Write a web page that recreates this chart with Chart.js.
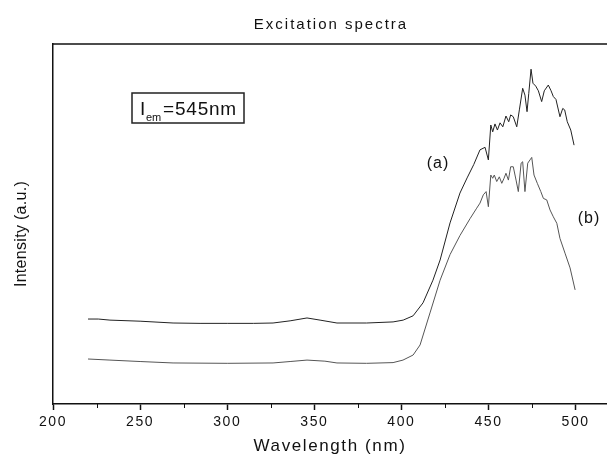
<!DOCTYPE html>
<html>
<head>
<meta charset="utf-8">
<script src="https://cdn.jsdelivr.net/npm/chart.js@4"></script>
<style>
  html, body { margin: 0; padding: 0; background: #fff; }
  #wrap { width: 607px; height: 457px; }
</style>
</head>
<body>
<div id="wrap"><canvas id="myChart"></canvas></div>
<script>
// curve (a)
const wlA = [220.1, 226, 232.7, 250, 268.9, 284.4, 300, 315, 326.3, 336.1, 345.8, 353.3, 363, 380, 395.2, 401, 406.7, 412.4, 418.1, 422.2, 427.9, 433.6, 437.7, 441.5, 445.1, 448.0, 449.9, 451.3, 452.4, 453.7, 455.1, 456.6, 458.2, 460.0, 461.6, 462.7, 464.2, 466.2, 467.7, 469.6, 470.9, 472.1, 473.1, 474.4, 475.5, 477.1, 478.6, 480.5, 482.0, 484.3, 485.9, 487.2, 488.7, 491.0, 492.6, 493.7, 495.2, 497.2, 499.1];
const intA = [23.6, 23.6, 23.3, 23.0, 22.5, 22.4, 22.4, 22.4, 22.5, 23.1, 23.9, 23.3, 22.5, 22.5, 22.8, 23.3, 24.5, 28.1, 34.4, 40.0, 50.3, 58.6, 62.8, 66.5, 70.6, 71.3, 67.8, 77.5, 75.6, 77.8, 76.1, 78.1, 77.0, 80.0, 78.4, 80.3, 79.8, 77.0, 81.7, 87.7, 85.8, 81.2, 86.3, 93.0, 89.1, 88.3, 87.0, 84.0, 87.0, 88.6, 87.0, 85.4, 84.6, 79.8, 82.1, 81.7, 78.4, 76.1, 71.9];

// curve (b)
const wlB = [220.1, 232.7, 250, 268.9, 300, 326.3, 336.1, 345.8, 356.1, 363, 380, 395.2, 400.9, 406.7, 410.7, 416.4, 422.2, 427.9, 433.6, 439.4, 443.2, 445.1, 447.0, 448.6, 449.9, 451.3, 452.4, 453.3, 454.7, 456.2, 457.6, 458.9, 460.0, 461.4, 462.7, 464.2, 465.8, 467.1, 468.7, 469.6, 470.9, 472.5, 473.8, 474.8, 476.1, 478.0, 480.0, 481.5, 483.4, 485.3, 487.2, 489.2, 491.0, 493.9, 496.8, 499.7];
const intB = [12.5, 12.2, 11.8, 11.4, 11.3, 11.4, 11.8, 12.2, 11.9, 11.4, 11.3, 11.5, 12.2, 13.6, 16.4, 25.3, 34.4, 41.5, 46.8, 51.5, 54.4, 55.8, 58.1, 59.0, 54.8, 63.6, 62.7, 63.6, 61.8, 63.1, 61.3, 62.7, 64.1, 62.2, 65.9, 65.9, 62.2, 59.0, 66.9, 67.3, 59.0, 66.9, 67.8, 68.5, 63.6, 61.3, 59.0, 57.1, 56.7, 53.9, 52.0, 50.2, 46.0, 41.9, 37.8, 31.7];

const majorTicks = [200, 250, 300, 350, 400, 450, 500];
const minorTicks = [225, 275, 325, 375, 425, 475];
const curveLabels = ['(a)', '(b)'];
const labelWl = [421.0, 507.7];
const labelInt = [66.9, 51.4];

const FONT = '"Liberation Sans", Arial, sans-serif';

const zip = (xs, ys) => xs.map((x, i) => ({ x: x, y: ys[i] }));

const extras = {
  id: 'extras',
  beforeDraw(chart) {
    chart.ctx.letterSpacing = '1.6px';
  },
  afterDraw(chart) {
    const ctx = chart.ctx;
    const a = chart.chartArea;
    const xs = chart.scales.x;
    const ys = chart.scales.y;
    ctx.save();
    ctx.strokeStyle = '#111';
    ctx.lineWidth = 1.5;
    // top frame line
    ctx.beginPath();
    ctx.moveTo(a.left, a.top);
    ctx.lineTo(a.right, a.top);
    ctx.stroke();
    // minor ticks
    ctx.lineWidth = 1;
    minorTicks.forEach(v => {
      const px = Math.round(xs.getPixelForValue(v)) + 0.5;
      ctx.beginPath();
      ctx.moveTo(px, a.bottom);
      ctx.lineTo(px, a.bottom + 4);
      ctx.stroke();
    });
    ctx.fillStyle = '#111';
    ctx.textAlign = 'center';
    ctx.textBaseline = 'middle';
    // chart title
    ctx.font = '15px ' + FONT;
    ctx.letterSpacing = '2px';
    ctx.fillText('Excitation spectra', (a.left + a.right) / 2 + 1, 25);
    // y axis title
    ctx.save();
    ctx.translate(22, 234);
    ctx.rotate(-Math.PI / 2);
    ctx.font = '16px ' + FONT;
    ctx.letterSpacing = '0.3px';
    ctx.fillText('Intensity (a.u.)', 0, 0);
    ctx.restore();
    // curve labels
    ctx.font = '16px ' + FONT;
    ctx.letterSpacing = '1px';
    curveLabels.forEach((t, i) => {
      ctx.fillText(t, xs.getPixelForValue(labelWl[i]), ys.getPixelForValue(labelInt[i]));
    });
    // excitation note box
    const bx = a.left + 79, by = a.top + 49;
    ctx.lineWidth = 1.5;
    ctx.strokeStyle = '#222';
    ctx.strokeRect(bx, by, 112, 30);
    ctx.textAlign = 'left';
    ctx.textBaseline = 'alphabetic';
    ctx.font = '19px ' + FONT;
    ctx.letterSpacing = '0px';
    ctx.fillText('I', bx + 8, by + 22);
    ctx.font = '11px ' + FONT;
    ctx.fillText('em', bx + 14, by + 28);
    ctx.font = '19px ' + FONT;
    ctx.letterSpacing = '0.8px';
    ctx.fillText('=545nm', bx + 31, by + 22);
    ctx.restore();
  }
};

new Chart(document.getElementById('myChart'), {
  type: 'line',
  data: {
    datasets: [{
      label: '(a)',
      data: zip(wlA, intA),
      borderColor: '#222',
      borderWidth: 1,
      pointRadius: 0,
      tension: 0
    }, {
      label: '(b)',
      data: zip(wlB, intB),
      borderColor: '#555',
      borderWidth: 1,
      pointRadius: 0,
      tension: 0
    }]
  },
  plugins: [extras],
  options: {
    responsive: true,
    maintainAspectRatio: false,
    animation: false,
    layout: { padding: { top: 44, left: 0, right: 0, bottom: 0 } },
    plugins: {
      legend: { display: false },
      tooltip: { enabled: false },
      title: { display: false }
    },
    scales: {
      x: {
        type: 'linear',
        min: 200,
        max: 518,
        afterBuildTicks: s => { s.ticks = majorTicks.map(v => ({ value: v })); },
        afterFit: s => { s.height = 53; },
        grid: { drawOnChartArea: false, drawTicks: true, tickLength: 6, tickColor: '#111', tickWidth: 1.5 },
        border: { display: true, color: '#111', width: 1.5 },
        ticks: { color: '#111', padding: 4, maxRotation: 0, autoSkip: false, font: { family: FONT, size: 14 } },
        title: {
          display: true,
          text: 'Wavelength (nm)',
          color: '#111',
          padding: { top: 0, bottom: 0 },
          font: { family: FONT, size: 17 }
        }
      },
      y: {
        min: 0,
        max: 100,
        afterFit: s => { s.width = 53; },
        grid: { display: false },
        border: { display: true, color: '#111', width: 1.5 },
        ticks: { display: false },
        title: { display: false }
      }
    }
  }
});
</script>
</body>
</html>
